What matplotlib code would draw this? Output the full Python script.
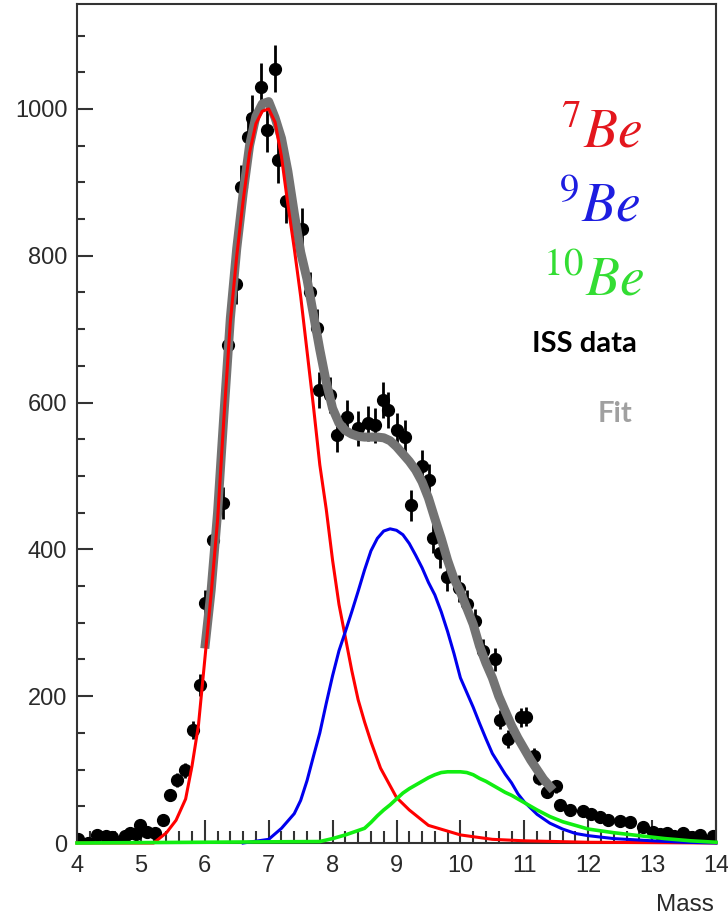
import matplotlib
matplotlib.use('Agg')
import matplotlib.pyplot as plt
import numpy as np
from matplotlib.ticker import MultipleLocator

# ISS data points (mass, counts)
mass_pts = [4.02, 4.17, 4.31, 4.45, 4.55, 4.64, 4.75, 4.83, 4.92, 4.99, 5.1, 5.22,
            5.35, 5.46, 5.56, 5.69, 5.82, 5.92, 6.00, 6.13, 6.28, 6.36, 6.49, 6.57,
            6.68, 6.74, 6.88, 6.97, 7.10, 7.15, 7.27, 7.52, 7.65, 7.76, 7.79, 7.96,
            8.07, 8.22, 8.40, 8.55, 8.66, 8.79, 8.87, 9.00, 9.13, 9.23, 9.40, 9.51,
            9.57, 9.68, 9.79, 9.98, 10.10, 10.23, 10.35, 10.54, 10.62, 10.74, 10.95,
            11.02, 11.15, 11.23, 11.35, 11.50, 11.56, 11.72, 11.92, 12.05, 12.18,
            12.31, 12.50, 12.65, 12.86, 13.01, 13.12, 13.23, 13.35, 13.48, 13.62,
            13.75, 13.85, 13.95]
counts_pts = [5, 0, 11, 9, 8, 0, 10, 14, 12, 25, 15, 14,
              31, 65, 86, 99, 154, 215, 327, 413, 463, 678, 762, 894,
              962, 988, 1030, 972, 1055, 930, 874, 836, 751, 701, 617, 610,
              556, 580, 565, 572, 569, 604, 590, 562, 553, 460, 513, 494,
              415, 395, 363, 347, 326, 302, 262, 250, 168, 142, 171,
              172, 118, 88, 70, 77, 52, 45, 43, 40, 36,
              31, 30, 29, 22, 15, 12, 13, 10, 13, 8,
              11, 0, 9]

# total fit
fit_x = [6.0, 6.1, 6.2, 6.3, 6.4, 6.5, 6.6, 6.7, 6.8, 6.9, 7.0, 7.1, 7.2, 7.3,
         7.4, 7.5, 7.6, 7.7, 7.8, 7.9, 8.0, 8.1, 8.2, 8.3, 8.4, 8.5, 8.6, 8.7,
         8.8, 8.9, 9.0, 9.1, 9.2, 9.3, 9.4, 9.5, 9.6, 9.7, 9.8, 9.9, 10.0, 10.1,
         10.2, 10.3, 10.4, 10.5, 10.6, 10.7, 10.8, 10.9, 11.0, 11.1, 11.2, 11.3,
         11.45]
fit_y = [265, 345, 450, 585, 715, 810, 885, 950, 990, 1007, 1010, 988, 960, 915,
         858, 805, 768, 720, 672, 628, 592, 572, 562, 557, 554, 553, 553, 553,
         552, 548, 540, 530, 520, 508, 492, 470, 442, 415, 385, 360, 342, 320,
         298, 268, 245, 225, 200, 180, 160, 143, 128, 113, 100, 87,
         72]

# 7Be component
be7_x = [4.0, 5.2, 5.4, 5.55, 5.7, 5.8, 5.9, 6.0, 6.1, 6.2, 6.3, 6.4, 6.5, 6.6,
         6.7, 6.8, 6.9, 7.0, 7.1, 7.2, 7.3, 7.4, 7.5, 7.6, 7.7, 7.8, 7.9, 8.0,
         8.1, 8.2, 8.3, 8.4, 8.5, 8.6, 8.75, 9.0, 9.2, 9.5, 10.0, 10.5, 11.0,
         12.0, 14.0]
be7_y = [0, 0, 14, 31, 60, 105, 160, 250, 340, 440, 580, 710, 800, 875,
         940, 980, 997, 1000, 982, 935, 870, 810, 745, 670, 595, 515, 455, 385,
         325, 280, 235, 195, 165, 138, 102, 62, 45, 24, 11, 5, 3,
         1, 0]

# 9Be component
be9_x = [6.6, 7.0, 7.2, 7.4, 7.5, 7.6, 7.7, 7.8, 7.9, 8.0, 8.1, 8.2, 8.3, 8.4,
         8.5, 8.6, 8.7, 8.8, 8.9, 9.0, 9.1, 9.2, 9.3, 9.4, 9.5, 9.6, 9.7, 9.8,
         9.9, 10.0, 10.1, 10.2, 10.3, 10.4, 10.5, 10.6, 10.7, 10.8, 10.9, 11.0,
         11.2, 11.4, 11.6, 11.8, 12.0, 12.4, 13.0, 13.5, 14.0]
be9_y = [0, 5, 20, 40, 58, 85, 118, 150, 190, 228, 262, 288, 315, 343,
         372, 398, 415, 425, 428, 426, 420, 408, 392, 375, 355, 338, 315, 288,
         258, 225, 205, 185, 163, 142, 122, 108, 94, 82, 67, 56,
         39, 27, 19, 13, 10, 6, 3, 1, 0]

# 10Be component
be10_x = [4.0, 7.8, 8.0, 8.2, 8.4, 8.5, 8.6, 8.7, 8.8, 8.9, 9.0, 9.1, 9.2, 9.3,
          9.4, 9.5, 9.6, 9.7, 9.8, 9.9, 10.0, 10.1, 10.2, 10.3, 10.4, 10.5, 10.6,
          10.7, 10.8, 10.9, 11.0, 11.2, 11.4, 11.6, 11.8, 12.0, 12.4, 12.8, 13.2,
          13.6, 14.0]
be10_y = [0, 2, 6, 11, 17, 20, 28, 37, 45, 52, 60, 68, 74, 79,
          84, 89, 93, 96, 97, 97, 97, 96, 93, 88, 84, 79, 74,
          69, 65, 60, 55, 45, 36, 29, 24, 19, 14, 10, 6,
          3, 1]

x_ticks = [4, 5, 6, 7, 8, 9, 10, 11, 12, 13, 14]
y_ticks = [0, 200, 400, 600, 800, 1000]

plt.rcParams['font.family'] = ['Liberation Sans', 'DejaVu Sans']
plt.rcParams['mathtext.fontset'] = 'stix'

W, H = 728, 918
fig = plt.figure(figsize=(W / 100, H / 100), dpi=100)
ax = fig.add_axes([77 / W, 1 - 843 / H, (716 - 77) / W, (843 - 4) / H])

ax.errorbar(mass_pts, counts_pts, yerr=np.sqrt(counts_pts), fmt='o', color='black',
            ms=8.5, elinewidth=2, capsize=0, zorder=2)
ax.plot(fit_x, fit_y, color='#737373', lw=6.5, solid_capstyle='butt', zorder=3)
# components may sit on the axis line, so let them draw past the frame
ax.plot(be7_x, be7_y, color='#ff0000', lw=2.2, zorder=4, clip_on=False)
ax.plot(be9_x, be9_y, color='#0000ee', lw=2.2, zorder=5, clip_on=False)
ax.plot(be10_x, be10_y, color='#11ee11', lw=2.6, zorder=6, clip_on=False)

ax.set_xlim(4, 14)
ax.set_ylim(0, 1143)
ax.set_xticks(x_ticks)
ax.set_yticks(y_ticks)
ax.xaxis.set_minor_locator(MultipleLocator(0.2))
ax.yaxis.set_minor_locator(MultipleLocator(50))
ax.tick_params(axis='both', which='both', direction='in', top=False, right=False,
               color='#333333', width=1.5, labelsize=17, labelcolor='#2a2a2a')
ax.tick_params(axis='x', which='major', length=16.5, pad=9)
ax.tick_params(axis='x', which='minor', length=9)
ax.tick_params(axis='y', which='major', length=11.5, pad=7)
ax.tick_params(axis='y', which='minor', length=6)
for s in ax.spines.values():
    s.set_color('#333333')
    s.set_linewidth(1.5)

fig.text(714 / W, 1 - 911 / H, 'Mass', ha='right', va='baseline', fontsize=17.5,
         color='#2a2a2a')

# labels on the right
fig.text(643 / W, 1 - 147 / H, r'$^{7}Be$', color='#e3161d', fontsize=40,
         ha='right', va='baseline')
fig.text(641 / W, 1 - 222 / H, r'$^{9}Be$', color='#1d1de0', fontsize=40,
         ha='right', va='baseline')
fig.text(644 / W, 1 - 295 / H, r'$^{10}Be$', color='#33dd33', fontsize=40,
         ha='right', va='baseline')
fig.text(637 / W, 1 - 352 / H, 'ISS data', color='black', fontsize=21,
         fontweight='bold', family='Lato', ha='right', va='baseline')
fig.text(632 / W, 1 - 422 / H, 'Fit', color='#a0a0a0', fontsize=21,
         fontweight='bold', family='Lato', ha='right', va='baseline')

fig.savefig('out.png', dpi=100)
